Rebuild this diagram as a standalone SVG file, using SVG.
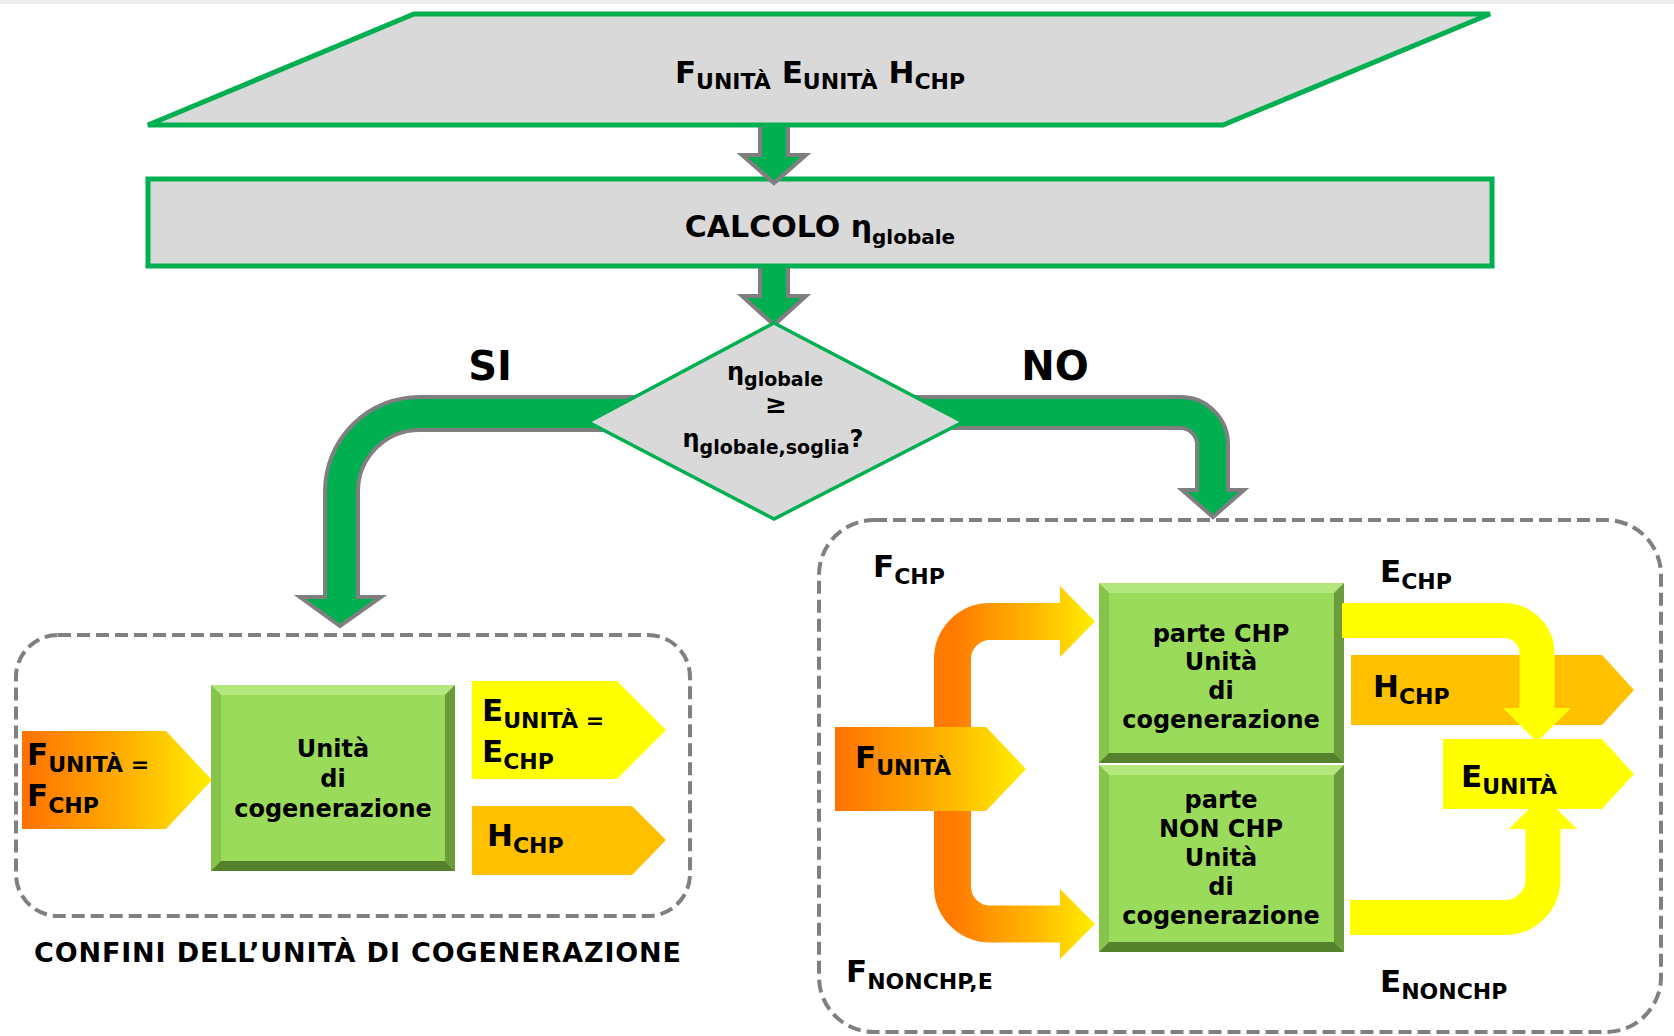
<svg xmlns="http://www.w3.org/2000/svg" width="1674" height="1036" viewBox="0 0 1674 1036">
  <style>
    .t { font-family: "DejaVu Sans", Verdana, "Liberation Sans", sans-serif; font-weight: bold; fill: #000; }
    .big { font-size: 31px; }
    .sub { font-size: 22px; }
    .lbl { font-size: 24px; text-anchor: middle; }
    .flowchart { fill: #d9d9d9; stroke: #00b050; stroke-width: 5; stroke-linejoin: miter; }
    .dash { fill: none; stroke: #808080; stroke-width: 4; stroke-dasharray: 13 6; }
    .pipeOut { fill: none; stroke: #7f7f7f; }
    .pipeIn { fill: none; stroke: #00b050; }
    .head { fill: #00b050; stroke: #7f7f7f; stroke-width: 4; stroke-linejoin: miter; }
    .bvC { fill: #9bdb5b; }
    .bvT { fill: #b3e67c; }
    .bvL { fill: #87c44c; }
    .bvR { fill: #6b9b3a; }
    .bvB { fill: #55802c; }
    .yel { fill: #ffff00; }
    .heat { fill: #ffc000; }
  </style>
  <defs>
    <linearGradient id="fuel" x1="0" y1="0" x2="1" y2="0">
      <stop offset="0" stop-color="#ff7200"/>
      <stop offset="0.5" stop-color="#ffaa00"/>
      <stop offset="1" stop-color="#ffee00"/>
    </linearGradient>
    <linearGradient id="fuelSplit" gradientUnits="userSpaceOnUse" x1="952" y1="0" x2="1095" y2="0">
      <stop offset="0" stop-color="#ff7a00"/>
      <stop offset="0.55" stop-color="#ffb400"/>
      <stop offset="1" stop-color="#ffee00"/>
    </linearGradient>
  </defs>

  <rect width="1674" height="1036" fill="#ffffff"/>
  <rect x="0" y="0" width="1674" height="4" fill="#ececec"/>

  <!-- input data -->
  <g id="input">
    <polygon class="flowchart" points="414,14 1490,14 1223,125 148,125"/>
    <text class="t" x="820" y="83" text-anchor="middle"><tspan class="big">F</tspan><tspan class="sub" dy="6">UNITÀ</tspan><tspan class="big" dy="-6"> E</tspan><tspan class="sub" dy="6">UNITÀ</tspan><tspan class="big" dy="-6"> H</tspan><tspan class="sub" dy="6">CHP</tspan></text>
  </g>

  <!-- efficiency calculation -->
  <g id="calcolo">
    <rect class="flowchart" x="148" y="179" width="1344" height="87"/>
    <text class="t" x="820" y="237" text-anchor="middle" font-size="30">CALCOLO η<tspan font-size="20" dy="7">globale</tspan></text>
  </g>

  <!-- main flow connectors -->
  <g id="connectors">
    <!-- input to calculation -->
    <line class="pipeOut" x1="774" y1="127" x2="774" y2="156" stroke-width="32"/>
    <polygon class="head" points="742,155 806,155 774,183"/>
    <line class="pipeIn" x1="774" y1="127" x2="774" y2="158" stroke-width="24"/>

    <!-- calculation to decision -->
    <line class="pipeOut" x1="774" y1="268" x2="774" y2="297" stroke-width="32"/>
    <polygon class="head" points="742,296 806,296 774,325"/>
    <line class="pipeIn" x1="774" y1="268" x2="774" y2="299" stroke-width="24"/>

    <!-- SI branch -->
    <path class="pipeOut" d="M 700 413.5 H 420 A 78 78 0 0 0 341.5 491.5 V 598" stroke-width="37"/>
    <polygon class="head" points="300,597 381,597 340,626"/>
    <path class="pipeIn" d="M 700 413.5 H 420 A 78 78 0 0 0 341.5 491.5 V 600" stroke-width="29"/>

    <!-- NO branch -->
    <path class="pipeOut" d="M 850 412.5 H 1180.5 A 32 32 0 0 1 1212.5 444.5 V 491" stroke-width="35"/>
    <polygon class="head" points="1182,490 1244,490 1213,517"/>
    <path class="pipeIn" d="M 850 412.5 H 1180.5 A 32 32 0 0 1 1212.5 444.5 V 493" stroke-width="27"/>

    <text class="t" x="490" y="380" text-anchor="middle" font-size="40">SI</text>
    <text class="t" x="1055" y="380" text-anchor="middle" font-size="40">NO</text>
  </g>

  <!-- threshold decision -->
  <g id="decision">
    <polygon points="774,323 963,422 774,519 588,422" fill="#d9d9d9" stroke="#00b050" stroke-width="3.5"/>
    <text class="t" x="775" y="380" text-anchor="middle" font-size="24">η<tspan font-size="19" dy="6">globale</tspan></text>
    <text class="t" x="776" y="413" text-anchor="middle" font-size="26">≥</text>
    <text class="t" x="773" y="447" text-anchor="middle" font-size="24">η<tspan font-size="19" dy="7">globale,soglia</tspan><tspan dy="-7">?</tspan></text>
  </g>

  <!-- SI: whole unit is cogeneration -->
  <g id="unita-chp">
    <rect class="dash" x="16" y="635" width="674" height="281" rx="42" ry="42"/>

    <polygon points="22,731 166,731 212,780 166,829 22,829" fill="url(#fuel)"/>
    <text class="t" x="27" y="765"><tspan class="big">F</tspan><tspan class="sub" dy="7">UNITÀ =</tspan></text>
    <text class="t" x="27" y="806"><tspan class="big">F</tspan><tspan class="sub" dy="7">CHP</tspan></text>

    <g id="box-unita">
      <rect class="bvC" x="211" y="685" width="244" height="186"/>
      <polygon class="bvT" points="211,685 455,685 445,695 221,695"/>
      <polygon class="bvL" points="211,685 221,695 221,861 211,871"/>
      <polygon class="bvR" points="455,685 455,871 445,861 445,695"/>
      <polygon class="bvB" points="211,871 455,871 445,861 221,861"/>
      <text class="t lbl" x="333" y="757">Unità</text>
      <text class="t lbl" x="333" y="787">di</text>
      <text class="t lbl" x="333" y="817">cogenerazione</text>
    </g>

    <polygon class="yel" points="472,681 617,681 666,730 617,779 472,779"/>
    <text class="t" x="482" y="721"><tspan class="big">E</tspan><tspan class="sub" dy="7">UNITÀ =</tspan></text>
    <text class="t" x="482" y="762"><tspan class="big">E</tspan><tspan class="sub" dy="7">CHP</tspan></text>

    <polygon class="heat" points="472,806 632,806 666,840 632,875 472,875"/>
    <text class="t" x="487" y="846"><tspan class="big">H</tspan><tspan class="sub" dy="7">CHP</tspan></text>

    <text class="t" x="34" y="962" font-size="27" textLength="647" lengthAdjust="spacing">CONFINI DELL’UNITÀ DI COGENERAZIONE</text>
  </g>

  <!-- NO: unit split into CHP and non-CHP parts -->
  <g id="unita-split">
    <rect class="dash" x="819" y="520" width="842" height="512" rx="55" ry="55"/>

    <!-- fuel split -->
    <g id="fuel-flows">
      <path d="M 1062 621.5 H 990 A 37.5 37.5 0 0 0 952.5 659 V 886.5 A 37.5 37.5 0 0 0 990 924 H 1062" fill="none" stroke="url(#fuelSplit)" stroke-width="37"/>
      <polygon points="1060,586 1095,621.5 1060,657" fill="url(#fuelSplit)"/>
      <polygon points="1060,889 1095,924 1060,959" fill="url(#fuelSplit)"/>
    </g>

    <polygon points="835,727 986,727 1026,769 986,811 835,811" fill="url(#fuel)"/>
    <text class="t" x="855" y="768"><tspan class="big">F</tspan><tspan class="sub" dy="7">UNITÀ</tspan></text>

    <g id="box-chp">
      <rect class="bvC" x="1099" y="583" width="245" height="180"/>
      <polygon class="bvT" points="1099,583 1344,583 1334,593 1109,593"/>
      <polygon class="bvL" points="1099,583 1109,593 1109,753 1099,763"/>
      <polygon class="bvR" points="1344,583 1344,763 1334,753 1334,593"/>
      <polygon class="bvB" points="1099,763 1344,763 1334,753 1109,753"/>
      <text class="t lbl" x="1221" y="642">parte CHP</text>
      <text class="t lbl" x="1221" y="670">Unità</text>
      <text class="t lbl" x="1221" y="699">di</text>
      <text class="t lbl" x="1221" y="728">cogenerazione</text>
    </g>

    <g id="box-nonchp">
      <rect class="bvC" x="1099" y="765" width="245" height="187"/>
      <polygon class="bvT" points="1099,765 1344,765 1334,775 1109,775"/>
      <polygon class="bvL" points="1099,765 1109,775 1109,942 1099,952"/>
      <polygon class="bvR" points="1344,765 1344,952 1334,942 1334,775"/>
      <polygon class="bvB" points="1099,952 1344,952 1334,942 1109,942"/>
      <text class="t lbl" x="1221" y="808">parte</text>
      <text class="t lbl" x="1221" y="837">NON CHP</text>
      <text class="t lbl" x="1221" y="866">Unità</text>
      <text class="t lbl" x="1221" y="895">di</text>
      <text class="t lbl" x="1221" y="924">cogenerazione</text>
    </g>

    <polygon class="heat" points="1351,655 1602,655 1634,690 1602,725 1351,725"/>
    <text class="t" x="1373" y="697"><tspan class="big">H</tspan><tspan class="sub" dy="7">CHP</tspan></text>

    <!-- electricity flows -->
    <g id="power-flows">
      <path d="M 1342 620.5 H 1504 A 33 33 0 0 1 1537 653.5 V 712" fill="none" stroke="#ffff00" stroke-width="35"/>
      <polygon class="yel" points="1503,708 1571,708 1537,742"/>
      <path d="M 1350 917.5 H 1505 A 38 38 0 0 0 1543 879.5 V 825" fill="none" stroke="#ffff00" stroke-width="35"/>
      <polygon class="yel" points="1509,829 1577,829 1543,795"/>
    </g>

    <polygon class="yel" points="1443,739 1602,739 1634,774 1602,809 1443,809"/>
    <text class="t" x="1461" y="787"><tspan class="big">E</tspan><tspan class="sub" dy="7">UNITÀ</tspan></text>

    <text class="t" x="873" y="577"><tspan class="big">F</tspan><tspan class="sub" dy="7">CHP</tspan></text>
    <text class="t" x="1380" y="582"><tspan class="big">E</tspan><tspan class="sub" dy="7">CHP</tspan></text>
    <text class="t" x="846" y="982"><tspan class="big">F</tspan><tspan class="sub" dy="7">NONCHP,E</tspan></text>
    <text class="t" x="1380" y="992"><tspan class="big">E</tspan><tspan class="sub" dy="7">NONCHP</tspan></text>
  </g>
</svg>
